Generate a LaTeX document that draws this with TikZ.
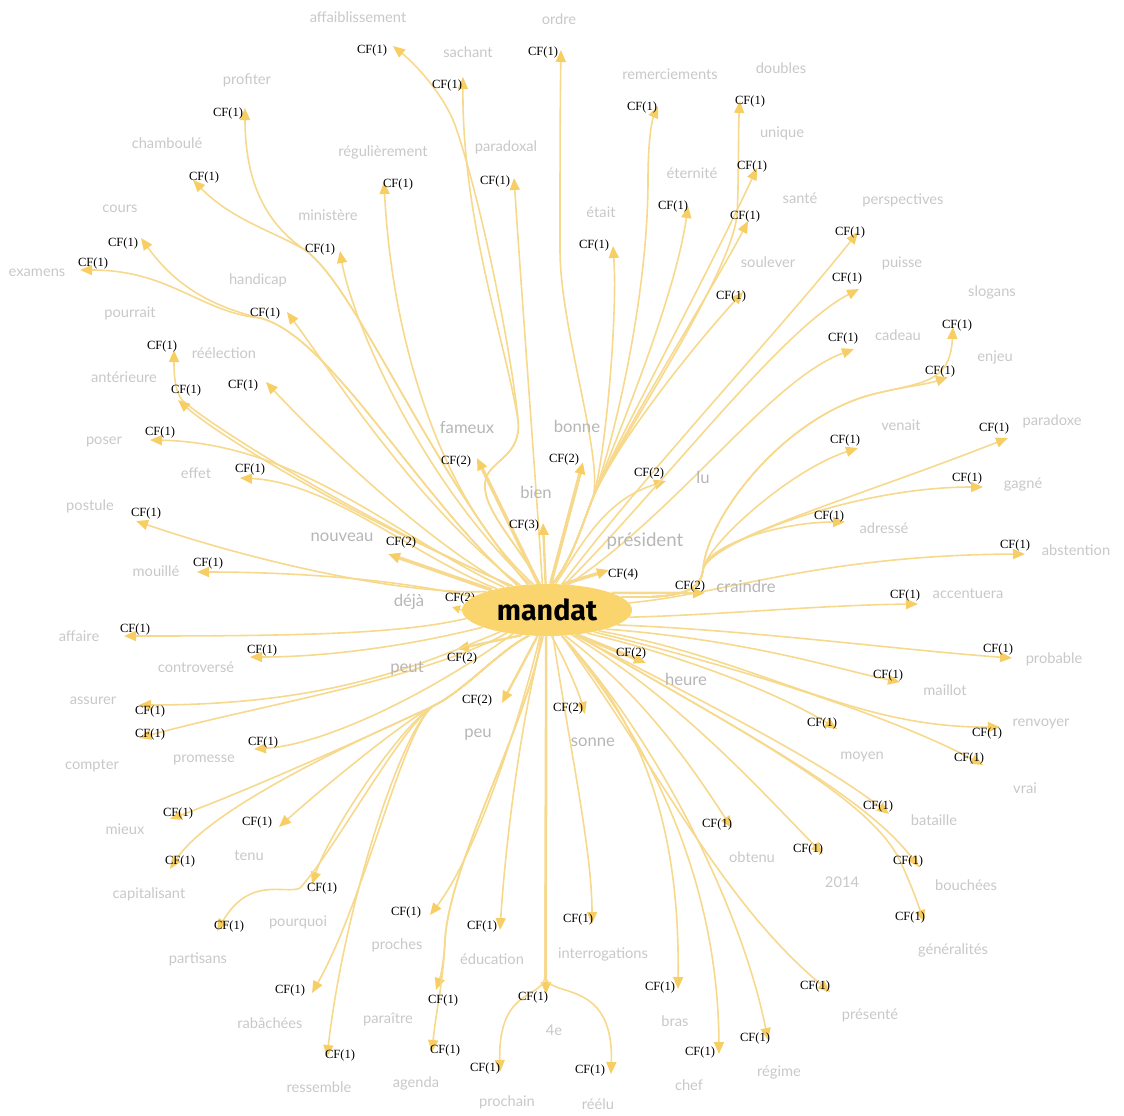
\documentclass[tikz,border=0pt]{standalone}
\usepackage{fontspec}
\setmainfont{Liberation Serif}
\newfontfamily\labfont{Lato}
\newfontfamily\mandatfont{Fira Sans}
\usetikzlibrary{arrows.meta,shapes.geometric,backgrounds}
\definecolor{linec}{RGB}{246,217,140}
\definecolor{tipc}{RGB}{247,206,100}
\definecolor{ellc}{RGB}{250,213,110}
\definecolor{labc}{RGB}{200,200,200}
\definecolor{labd}{RGB}{182,182,182}
\tikzset{
  ed/.style={draw=linec,line width=1.2pt,-{Triangle[length=9pt,width=7.5pt,color=tipc]}},
  edw/.style={ed,line width=2.6pt},
  edm/.style={ed,line width=1.8pt},
  cf/.style={font=\fontsize{9.4}{10}\selectfont,text=black,inner sep=0pt},
  lab/.style={font=\labfont\fontsize{11}{12}\selectfont,text=labc,inner sep=0pt},
  labL/.style={font=\labfont\fontsize{12.5}{14}\selectfont,text=labd,inner sep=0pt},
}
\begin{document}
\begin{tikzpicture}[x=0.75pt,y=-0.75pt]
\useasboundingbox (0,0) rectangle (1124,1115);
\node[ellipse,fill=ellc,minimum width=127.5pt,minimum height=39pt,inner sep=0pt] (m) at (547,610) {\mandatfont\bfseries\fontsize{21.5}{24}\selectfont mandat};
% tips
\coordinate (t1) at (393,46); \coordinate (t2) at (463,77); \coordinate (t3) at (561,50);
\coordinate (t4) at (245,108); \coordinate (t5) at (193,180); \coordinate (t6) at (384,182);
\coordinate (t7) at (514,178); \coordinate (t8) at (340,251); \coordinate (t9) at (141,238);
\coordinate (t10) at (80,270); \coordinate (t11) at (287,312); \coordinate (t12) at (174,350);
\coordinate (t13) at (266,382); \coordinate (t14) at (178,400); \coordinate (t15) at (150,440);
\coordinate (t16) at (240,478); \coordinate (t17) at (136,521); \coordinate (t18) at (197,572);
\coordinate (t19) at (477,458); \coordinate (t20) at (388,554); \coordinate (t21) at (452,607);
\coordinate (t22) at (124,636); \coordinate (t23) at (250,657); \coordinate (t24) at (457,649);
\coordinate (t25) at (139,705); \coordinate (t26) at (139,738); \coordinate (t27) at (254,749);
\coordinate (t28) at (502,703); \coordinate (t29) at (170,819); \coordinate (t30) at (279,827);
\coordinate (t31) at (170,869); \coordinate (t32) at (312,884); \coordinate (t33) at (217,931);
\coordinate (t34) at (312,993); \coordinate (t35) at (327,1057); \coordinate (t36) at (430,915);
\coordinate (t37) at (436,990); \coordinate (t38) at (432,1052); \coordinate (t39) at (500,930);
\coordinate (t40) at (585,714); \coordinate (t41) at (592,924); \coordinate (t42) at (546,994);
\coordinate (t43) at (500,1072); \coordinate (t44) at (611,1074); \coordinate (t45) at (678,989);
\coordinate (t46) at (719,1054); \coordinate (t47) at (768,1040); \coordinate (t48) at (830,992);
\coordinate (t49) at (732,828); \coordinate (t50) at (823,854); \coordinate (t51) at (837,729);
\coordinate (t52) at (889,814); \coordinate (t53) at (919,867); \coordinate (t54) at (924,922);
\coordinate (t55) at (983,765); \coordinate (t56) at (1000,727); \coordinate (t57) at (900,682);
\coordinate (t58) at (1012,658); \coordinate (t59) at (918,604); \coordinate (t60) at (1025,554);
\coordinate (t61) at (646,663); \coordinate (t62) at (705,593); \coordinate (t63) at (609,570);
\coordinate (t64) at (543,523); \coordinate (t65) at (583,462); \coordinate (t66) at (666,481);
\coordinate (t67) at (845,522); \coordinate (t68) at (983,487); \coordinate (t69) at (1008,438);
\coordinate (t70) at (858,448); \coordinate (t71) at (948,377); \coordinate (t72) at (953,327);
\coordinate (t73) at (854,349); \coordinate (t74) at (859,289); \coordinate (t75) at (858,232);
\coordinate (t76) at (743,292); \coordinate (t77) at (748,221); \coordinate (t78) at (757,168);
\coordinate (t79) at (740,101); \coordinate (t80) at (658,106); \coordinate (t81) at (688,206);
\coordinate (t82) at (613,246);
\begin{pgfonlayer}{background}
% top-left bundle
\draw[ed] (m.105) .. controls (515,540) and (478,505) .. (486,478) .. controls (492,460) and (522,455) .. (518,420) .. controls (510,340) and (478,190) .. (455,125) .. controls (445,98) and (420,68) .. (t1);
\draw[ed] (m.105) .. controls (515,540) and (478,505) .. (486,478) .. controls (492,460) and (522,455) .. (518,420) .. controls (505,340) and (462,220) .. (t2);
\draw[ed] (m.100) .. controls (535,470) and (522,300) .. (t7);
\draw[ed] (m.118) .. controls (440,500) and (392,340) .. (t6);
\draw[ed] (m.123) .. controls (420,480) and (352,320) .. (t8);
\draw[ed] (m.127) .. controls (430,470) and (355,285) .. (305,250) .. controls (268,225) and (245,185) .. (t4);
\draw[ed] (m.127) .. controls (430,470) and (355,285) .. (305,250) .. controls (275,232) and (232,220) .. (t5);
\draw[ed] (m.137) .. controls (420,510) and (330,370) .. (t11);
\draw[ed] (m.140) .. controls (420,500) and (330,335) .. (260,318) .. controls (210,306) and (175,285) .. (t9);
\draw[ed] (m.140) .. controls (420,500) and (330,335) .. (260,318) .. controls (200,312) and (170,270) .. (t10);
\draw[ed] (m.145) .. controls (380,530) and (215,430) .. (182,400) .. controls (174,390) and (174,370) .. (t12);
\draw[ed] (m.145) .. controls (380,530) and (230,445) .. (t14);
\draw[ed] (m.148) .. controls (430,545) and (320,440) .. (t13);
\draw[ed] (m.152) .. controls (400,540) and (300,443) .. (t15);
\draw[ed] (m.157) .. controls (420,560) and (330,482) .. (t16);
\draw[ed] (m.163) .. controls (400,595) and (250,560) .. (t17);
\draw[ed] (m.170) .. controls (400,580) and (300,572) .. (t18);
\draw[edw] (m.160) -- (t20);
\draw[edw] (m.108) -- (t19);
\draw[ed,-{Triangle[length=6pt,width=6pt,color=tipc]}] (m.180) -- (t21);
% left / lower-left
\draw[ed] (m.186) .. controls (400,634) and (300,636) .. (t22);
\draw[ed] (m.195) .. controls (400,648) and (320,657) .. (t23);
\draw[edm] (m.225) -- (t24);
\draw[ed] (m.205) .. controls (420,665) and (330,705) .. (t25);
\draw[ed] (m.210) .. controls (420,680) and (260,705) .. (t26);
\draw[ed] (m.215) .. controls (420,700) and (320,745) .. (t27);
\draw[ed] (m.235) .. controls (500,650) and (465,690) .. (435,705) .. controls (405,720) and (250,790) .. (t29);
\draw[ed] (m.235) .. controls (500,650) and (465,690) .. (435,705) .. controls (405,720) and (215,800) .. (t31);
\draw[ed] (m.235) .. controls (500,650) and (465,690) .. (435,705) .. controls (405,720) and (320,790) .. (t30);
\draw[ed] (m.235) .. controls (500,650) and (465,690) .. (435,705) .. controls (405,720) and (330,830) .. (t32);
\draw[ed] (m.235) .. controls (500,650) and (465,690) .. (435,705) .. controls (405,720) and (335,850) .. (300,888) .. controls (285,895) and (250,875) .. (t33);
\draw[ed] (m.235) .. controls (500,650) and (465,690) .. (435,705) .. controls (405,720) and (365,900) .. (t34);
\draw[ed] (m.235) .. controls (500,650) and (465,690) .. (435,705) .. controls (405,720) and (345,900) .. (t35);
% bottom
\draw[edm] (m.250) -- (t28);
\draw[ed] (m.255) .. controls (525,700) and (480,850) .. (t36);
\draw[ed] (m.258) .. controls (530,720) and (450,860) .. (445,940) .. controls (444,960) and (441,975) .. (t37);
\draw[ed] (m.258) .. controls (530,720) and (450,860) .. (445,940) .. controls (443,985) and (436,1010) .. (t38);
\draw[ed] (m.262) .. controls (520,720) and (505,850) .. (t39);
\draw[edm] (m.268) -- (t42);
\draw[ed] (m.268) -- (545,975) .. controls (545,1000) and (498,985) .. (t43);
\draw[ed] (m.268) -- (545,975) .. controls (546,1000) and (614,975) .. (t44);
\draw[ed] (m.280) .. controls (565,660) and (578,690) .. (t40);
\draw[ed] (m.283) .. controls (570,750) and (592,850) .. (t41);
% lower-right
\draw[ed] (m.300) .. controls (640,720) and (680,820) .. (t45);
\draw[ed] (m.300) .. controls (650,740) and (718,880) .. (t46);
\draw[ed] (m.300) .. controls (650,730) and (740,900) .. (t47);
\draw[ed] (m.300) .. controls (660,770) and (720,900) .. (t48);
\draw[ed] (m.305) .. controls (650,700) and (700,780) .. (t49);
\draw[ed] (m.315) .. controls (680,700) and (760,790) .. (t50);
\draw[ed] (m.318) .. controls (700,700) and (820,760) .. (t52);
\draw[ed] (m.320) .. controls (720,720) and (860,790) .. (t53);
\draw[ed] (m.320) .. controls (720,720) and (860,790) .. (897,855) .. controls (905,870) and (915,895) .. (t54);
\draw[edw] (m.320) -- (t61);
\draw[ed] (m.330) .. controls (700,660) and (790,700) .. (t51);
\draw[ed] (m.335) .. controls (750,670) and (900,720) .. (t55);
\draw[ed] (m.338) .. controls (760,660) and (850,728) .. (t56);
\draw[ed] (m.342) .. controls (750,640) and (840,670) .. (t57);
\draw[ed] (m.348) .. controls (750,630) and (900,650) .. (t58);
\draw[ed] (m.355) .. controls (720,615) and (820,605) .. (t59);
\draw[ed] (m.5) .. controls (720,595) and (820,555) .. (t60);
% right hub
\draw[edm] (m.15) -- (t62);
\draw[ed] (m.10) .. controls (670,598) and (700,595) .. (703,570) .. controls (706,545) and (790,470) .. (t70);
\draw[ed] (m.10) .. controls (670,598) and (700,595) .. (703,570) .. controls (706,545) and (780,522) .. (t67);
\draw[ed] (m.10) .. controls (670,598) and (700,595) .. (703,570) .. controls (706,545) and (850,487) .. (t68);
\draw[ed] (m.10) .. controls (670,598) and (700,595) .. (703,570) .. controls (706,540) and (850,500) .. (t69);
\draw[ed] (m.10) .. controls (670,598) and (700,595) .. (703,570) .. controls (706,520) and (780,420) .. (870,395) .. controls (900,387) and (925,385) .. (t71);
\draw[ed] (m.10) .. controls (670,598) and (700,595) .. (703,570) .. controls (706,520) and (780,420) .. (870,395) .. controls (920,382) and (950,385) .. (t72);
% top-right
\draw[ed] (m.72) .. controls (585,540) and (605,500) .. (t66);
\draw[edw] (m.82) -- (t65);
\draw[edm] (m.93) -- (t64);
\draw[edw] (m.58) -- (t63);
\draw[ed] (m.78) .. controls (572,560) and (582,525) .. (592,500) .. controls (606,465) and (560,330) .. (560,250) .. controls (560,180) and (560,110) .. (t3);
\draw[ed] (m.78) .. controls (572,560) and (582,525) .. (592,500) .. controls (612,450) and (648,300) .. (648,180) .. controls (648,140) and (652,120) .. (t80);
\draw[ed] (m.78) .. controls (572,560) and (582,525) .. (592,500) .. controls (612,450) and (675,300) .. (t81);
\draw[ed] (m.78) .. controls (572,560) and (582,525) .. (592,500) .. controls (604,470) and (618,320) .. (t82);
\draw[ed] (m.78) .. controls (572,560) and (582,525) .. (592,500) .. controls (612,450) and (730,280) .. (737,215) .. controls (739,180) and (738,130) .. (t79);
\draw[ed] (m.78) .. controls (572,560) and (582,525) .. (592,500) .. controls (612,450) and (700,290) .. (t78);
\draw[ed] (m.78) .. controls (572,560) and (582,525) .. (592,500) .. controls (612,450) and (715,285) .. (t77);
\draw[ed] (m.78) .. controls (572,560) and (582,525) .. (592,500) .. controls (615,445) and (690,350) .. (t76);
\draw[ed] (m.60) .. controls (640,480) and (780,330) .. (t75);
\draw[ed] (m.55) .. controls (660,490) and (780,330) .. (t74);
\draw[ed] (m.50) .. controls (680,510) and (770,380) .. (t73);
% CF labels
\node[cf] (c1) at (372,50) {CF(1)};
\node[cf] (c2) at (447,85) {CF(1)};
\node[cf] (c3) at (543,52) {CF(1)};
\node[cf] (c4) at (228,113) {CF(1)};
\node[cf] (c5) at (204,177) {CF(1)};
\node[cf] (c6) at (398,184) {CF(1)};
\node[cf] (c7) at (495,181) {CF(1)};
\node[cf] (c8) at (320,249) {CF(1)};
\node[cf] (c9) at (123,243) {CF(1)};
\node[cf] (c10) at (93,263) {CF(1)};
\node[cf] (c11) at (265,313) {CF(1)};
\node[cf] (c12) at (162,346) {CF(1)};
\node[cf] (c13) at (243,385) {CF(1)};
\node[cf] (c14) at (186,390) {CF(1)};
\node[cf] (c15) at (160,432) {CF(1)};
\node[cf] (c16) at (250,469) {CF(1)};
\node[cf] (c17) at (146,513) {CF(1)};
\node[cf] (c18) at (208,563) {CF(1)};
\node[cf] (c19) at (456,461) {CF(2)};
\node[cf] (c20) at (401,542) {CF(2)};
\node[cf] (c21) at (460,598) {CF(2)};
\node[cf] (c22) at (135,629) {CF(1)};
\node[cf] (c23) at (262,650) {CF(1)};
\node[cf] (c24) at (462,658) {CF(2)};
\node[cf] (c25) at (150,711) {CF(1)};
\node[cf] (c26) at (150,734) {CF(1)};
\node[cf] (c27) at (263,742) {CF(1)};
\node[cf] (c28) at (477,700) {CF(2)};
\node[cf] (c29) at (178,813) {CF(1)};
\node[cf] (c30) at (257,822) {CF(1)};
\node[cf] (c31) at (180,861) {CF(1)};
\node[cf] (c32) at (322,888) {CF(1)};
\node[cf] (c33) at (229,926) {CF(1)};
\node[cf] (c34) at (290,990) {CF(1)};
\node[cf] (c35) at (340,1055) {CF(1)};
\node[cf] (c36) at (406,912) {CF(1)};
\node[cf] (c37) at (443,1000) {CF(1)};
\node[cf] (c38) at (445,1050) {CF(1)};
\node[cf] (c39) at (482,926) {CF(1)};
\node[cf] (c40) at (568,708) {CF(2)};
\node[cf] (c41) at (578,919) {CF(1)};
\node[cf] (c42) at (533,997) {CF(1)};
\node[cf] (c43) at (485,1068) {CF(1)};
\node[cf] (c44) at (590,1070) {CF(1)};
\node[cf] (c45) at (660,987) {CF(1)};
\node[cf] (c46) at (700,1052) {CF(1)};
\node[cf] (c47) at (755,1038) {CF(1)};
\node[cf] (c48) at (815,986) {CF(1)};
\node[cf] (c49) at (717,824) {CF(1)};
\node[cf] (c50) at (808,849) {CF(1)};
\node[cf] (c51) at (822,723) {CF(1)};
\node[cf] (c52) at (878,806) {CF(1)};
\node[cf] (c53) at (908,861) {CF(1)};
\node[cf] (c54) at (910,917) {CF(1)};
\node[cf] (c55) at (969,758) {CF(1)};
\node[cf] (c56) at (987,733) {CF(1)};
\node[cf] (c57) at (888,675) {CF(1)};
\node[cf] (c58) at (998,649) {CF(1)};
\node[cf] (c59) at (905,595) {CF(1)};
\node[cf] (c60) at (1015,545) {CF(1)};
\node[cf] (c61) at (631,653) {CF(2)};
\node[cf] (c62) at (690,586) {CF(2)};
\node[cf] (c63) at (623,574) {CF(4)};
\node[cf] (c64) at (524,525) {CF(3)};
\node[cf] (c65) at (564,459) {CF(2)};
\node[cf] (c66) at (649,473) {CF(2)};
\node[cf] (c67) at (829,516) {CF(1)};
\node[cf] (c68) at (967,478) {CF(1)};
\node[cf] (c69) at (994,428) {CF(1)};
\node[cf] (c70) at (845,440) {CF(1)};
\node[cf] (c71) at (940,371) {CF(1)};
\node[cf] (c72) at (957,325) {CF(1)};
\node[cf] (c73) at (843,338) {CF(1)};
\node[cf] (c74) at (847,278) {CF(1)};
\node[cf] (c75) at (850,232) {CF(1)};
\node[cf] (c76) at (731,296) {CF(1)};
\node[cf] (c77) at (745,216) {CF(1)};
\node[cf] (c78) at (752,166) {CF(1)};
\node[cf] (c79) at (750,101) {CF(1)};
\node[cf] (c80) at (642,107) {CF(1)};
\node[cf] (c81) at (673,206) {CF(1)};
\node[cf] (c82) at (594,245) {CF(1)};
\end{pgfonlayer}
% grey word labels
\node[lab] (w1) at (358,17) {affaiblissement};
\node[lab] (w2) at (468,52) {sachant};
\node[lab] (w3) at (559,19) {ordre};
\node[lab] (w4) at (247,80) {profiter};
\node[lab] (w5) at (670,74) {remerciements};
\node[lab] (w6) at (781,68) {doubles};
\node[lab] (w7) at (167,143) {chamboulé};
\node[lab] (w8) at (383,152) {régulièrement};
\node[lab] (w9) at (506,147) {paradoxal};
\node[lab] (w10) at (782,133) {unique};
\node[lab] (w11) at (692,173) {éternité};
\node[lab] (w12) at (800,198) {santé};
\node[lab] (w13) at (903,200) {perspectives};
\node[lab] (w14) at (601,212) {était};
\node[lab] (w15) at (120,209) {cours};
\node[lab] (w16) at (328,215) {ministère};
\node[lab] (w17) at (768,262) {soulever};
\node[lab] (w18) at (902,263) {puisse};
\node[lab] (w19) at (37,273) {examens};
\node[lab] (w20) at (258,280) {handicap};
\node[lab] (w21) at (992,292) {slogans};
\node[lab] (w22) at (130,313) {pourrait};
\node[lab] (w23) at (898,335) {cadeau};
\node[lab] (w24) at (224,353) {réélection};
\node[lab] (w25) at (995,357) {enjeu};
\node[lab] (w26) at (124,377) {antérieure};
\node[lab] (w27) at (901,425) {venait};
\node[lab] (w28) at (1052,421) {paradoxe};
\node[lab] (w29) at (104,442) {poser};
\node[lab] (w30) at (196,473) {effet};
\node[lab] (w31) at (1023,485) {gagné};
\node[lab] (w32) at (90,506) {postule};
\node[lab] (w33) at (884,528) {adressé};
\node[lab] (w34) at (1076,550) {abstention};
\node[lab] (w35) at (156,571) {mouillé};
\node[lab] (w36) at (968,594) {accentuera};
\node[lab] (w37) at (79,636) {affaire};
\node[lab] (w38) at (196,667) {controversé};
\node[lab] (w39) at (1054,659) {probable};
\node[lab] (w40) at (945,690) {maillot};
\node[lab] (w41) at (93,701) {assurer};
\node[lab] (w42) at (1041,724) {renvoyer};
\node[lab] (w43) at (204,760) {promesse};
\node[lab] (w44) at (92,766) {compter};
\node[lab] (w45) at (862,757) {moyen};
\node[lab] (w46) at (1025,788) {vrai};
\node[lab] (w47) at (934,820) {bataille};
\node[lab] (w48) at (125,829) {mieux};
\node[lab] (w49) at (249,856) {tenu};
\node[lab] (w50) at (752,857) {obtenu};
\node[lab] (w51) at (842,882) {2014};
\node[lab] (w52) at (966,885) {bouchées};
\node[lab] (w53) at (149,894) {capitalisant};
\node[lab] (w54) at (298,922) {pourquoi};
\node[lab] (w55) at (397,945) {proches};
\node[lab] (w56) at (953,950) {généralités};
\node[lab] (w57) at (492,959) {éducation};
\node[lab] (w58) at (603,954) {interrogations};
\node[lab] (w59) at (198,959) {partisans};
\node[lab] (w60) at (870,1015) {présenté};
\node[lab] (w61) at (388,1019) {paraître};
\node[lab] (w62) at (675,1021) {bras};
\node[lab] (w63) at (270,1023) {rabâchées};
\node[lab] (w64) at (554,1030) {4e};
\node[lab] (w65) at (779,1072) {régime};
\node[lab] (w66) at (416,1083) {agenda};
\node[lab] (w67) at (689,1085) {chef};
\node[lab] (w68) at (319,1087) {ressemble};
\node[lab] (w69) at (507,1102) {prochain};
\node[lab] (w70) at (598,1104) {réélu};
\node[labL] (w71) at (467,427) {fameux};
\node[labL] (w72) at (577,426) {bonne};
\node[labL] (w73) at (536,492) {bien};
\node[labL] (w74) at (703,477) {lu};
\node[labL,font=\labfont\fontsize{14}{16}\selectfont] (w75) at (645,541) {président};
\node[labL] (w76) at (342,537) {nouveau};
\node[labL] (w77) at (746,586) {craindre};
\node[labL] (w78) at (409,602) {déjà};
\node[labL] (w79) at (407,668) {peut};
\node[labL] (w80) at (686,679) {heure};
\node[labL] (w81) at (478,735) {peu};
\node[labL] (w82) at (593,742) {sonne};
\end{tikzpicture}
\end{document}
